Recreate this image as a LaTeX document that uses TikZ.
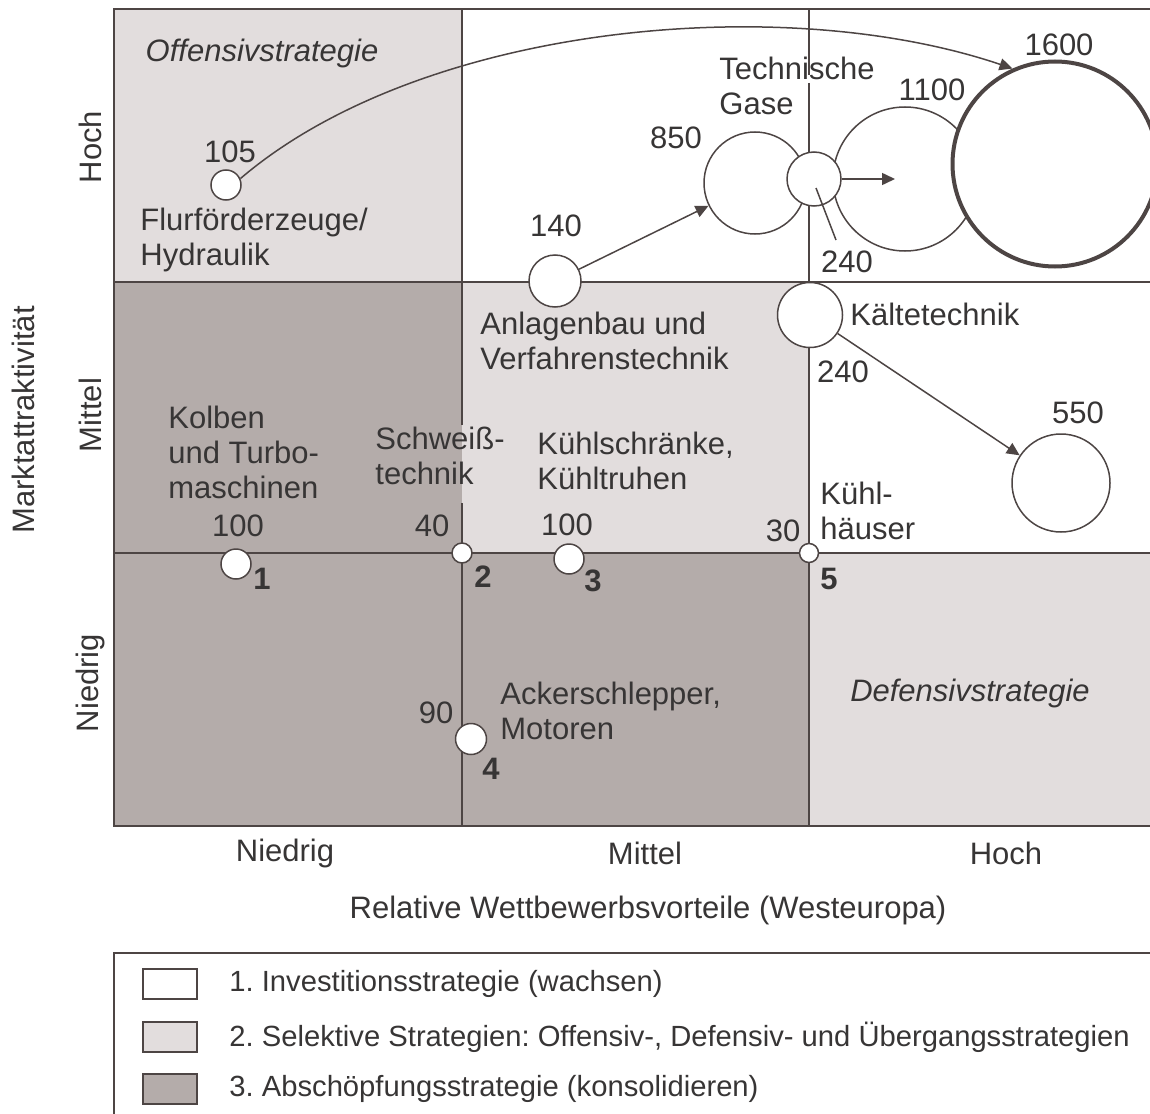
\documentclass[tikz,border=0pt]{standalone}
\usepackage{fontspec}
\setmainfont{Liberation Sans}
\usepackage{tikz}
\usetikzlibrary{positioning,arrows.meta}

\definecolor{linegray}{RGB}{77,69,68}
\definecolor{textgray}{RGB}{55,53,53}
\definecolor{lightq}{RGB}{226,221,221}
\definecolor{darkq}{RGB}{180,172,170}

\frenchspacing
\begin{document}
\begin{tikzpicture}[
    x=0.5pt, y=-0.5pt,
    font=\fontsize{15.5pt}{17.5pt}\selectfont,
    every node/.style={text=textgray},
    bub/.style={circle, draw=linegray, line width=0.75pt, fill=white, inner sep=0pt},
    lbl/.style={inner sep=0pt},
    txt/.style={inner sep=0pt, align=left, anchor=west},
    idx/.style={inner sep=0pt, font=\fontsize{15.5pt}{17.5pt}\selectfont\bfseries},
    arr/.style={draw=linegray, line width=0.75pt, -{Triangle[length=6.5pt,width=6pt]}},
    gridline/.style={draw=linegray, line width=1pt},
    swatch/.style={draw=linegray, line width=1pt, minimum width=27pt, minimum height=15pt, inner sep=0pt},
    legtext/.style={inner sep=0pt, font=\fontsize{14.6pt}{17pt}\selectfont}
]
\useasboundingbox (0,0) rectangle (1150,1113);
\clip (0,0) rectangle (1150,1113);

% Quadrant fills
\fill[lightq] (114,9) rectangle (462,282);
\fill[darkq] (114,282) rectangle (462,826);
\fill[lightq] (462,282) rectangle (809,553);
\fill[darkq] (462,553) rectangle (809,826);
\fill[lightq] (809,553) rectangle (1160,826);

% Grid
\draw[gridline] (1160,9) -- (114,9) -- (114,826) -- (1160,826);
\draw[gridline] (114,282) -- (1160,282);
\draw[gridline] (114,553) -- (1160,553);
\draw[gridline] (462,9) -- (462,425) (462,503) -- (462,826);
\draw[gridline] (809,9) -- (809,75) (809,83) -- (809,826);

% Strategy names
\node (offens) [lbl, font=\fontsize{15.5pt}{17.5pt}\selectfont\itshape] at (262,53) {Offensivstrategie};
\node (defens) [lbl, font=\fontsize{15.5pt}{17.5pt}\selectfont\itshape] at (970,693) {Defensivstrategie};

% Bubbles, high attractiveness
\node (c105) [bub, minimum size=15pt] at (226,185) {};
\node (c140) [bub, minimum size=26pt] at (555,281) {};
\node (c1100) [bub, minimum size=72pt] at (905,179) {};
\node (c1600) [bub, minimum size=102.5pt, line width=2pt] at (1055,164) {};
\node (c850) [bub, minimum size=51pt] at (755,183) {};
\node (c240g) [bub, minimum size=27pt] at (814,179) {};

% Bubbles, medium attractiveness
\node (ck) [bub, minimum size=32.5pt] at (810,315) {};
\node (c550) [bub, minimum size=49pt] at (1061,483) {};

% Bubbles on the lower lines
\node (c1) [bub, minimum size=15pt] at (236,564) {};
\node (c2) [bub, minimum size=10pt] at (462,553) {};
\node (c3) [bub, minimum size=15pt] at (569,559) {};
\node (c4) [bub, minimum size=15.5pt] at (471,739) {};
\node (c5) [bub, minimum size=9.5pt] at (809,553) {};

% Values
\node (v105) [lbl] at (230,152) {105};
\node (v140) [lbl] at (556,226) {140};
\node (v850) [lbl] at (676,138) {850};
\node (v1100) [lbl] at (932,90) {1100};
\node (v1600) [lbl] at (1059,45) {1600};
\node (v240g) [lbl] at (847,262) {240};
\node (v240k) [lbl] at (843,372) {240};
\node (v550) [lbl] at (1078,413) {550};
\node (v100a) [lbl] at (238,526) {100};
\node (v40) [lbl] at (432,526) {40};
\node (v100b) [lbl] at (567,525) {100};
\node (v30) [lbl] at (783,531) {30};
\node (v90) [lbl] at (436,713) {90};

% Numbers
\node (n1) [idx] at (262,579) {1};
\node (n2) [idx] at (483,577) {2};
\node (n3) [idx] at (593,581) {3};
\node (n4) [idx] at (491,769) {4};
\node (n5) [idx] at (829,579) {5};

% Business names
\node (flur) [txt] at (140,240) {Flurförderzeuge/\\Hydraulik};
\node (gase) [txt] at (719,86) {Technische\\Gase};
\node (anlagen) [txt] at (480,341) {Anlagenbau und\\Verfahrenstechnik};
\node (kaelte) [txt] at (850,314) {Kältetechnik};
\node (kolben) [txt] at (168,452) {Kolben\\und Turbo-\\maschinen};
\node (schweiss) [txt] at (375,456) {Schweiß-\\technik};
\node (kuehl) [txt] at (537,461) {Kühlschränke,\\Kühltruhen};
\node (haeuser) [txt] at (820,511) {Kühl-\\häuser};
\node (acker) [txt] at (500,711) {Ackerschlepper,\\Motoren};

% Arrows
\draw[arr] (c105.24) .. controls (420,25) and (780,-10) .. (c1600.114);
\draw[arr] (c140) -- (c850);
\draw[arr] (c240g.east) -- ([xshift=-5pt]c1100.center);
\draw[arr] (ck) -- (c550);
\coordinate (lead) at (836,240);
\draw[draw=linegray, line width=0.75pt] ([shift={(2,9)}]c240g.center) -- (lead);

% Axes
\node (xlow) [lbl] at (285,853) {Niedrig};
\node (xmid) [lbl] at (645,853) {Mittel};
\node (xhigh) [lbl] at (1006,853) {Hoch};
\node (xtitle) [lbl] at (648,910) {Relative Wettbewerbsvorteile (Westeuropa)};
\node (yhigh) [lbl, rotate=90] at (90,147) {Hoch};
\node (ymid) [lbl, rotate=90] at (90,415) {Mittel};
\node (ylow) [lbl, rotate=90] at (90,683) {Niedrig};
\node (ytitle) [lbl, rotate=90] at (23,420) {Marktattraktivität};

% Legend
\draw[gridline] (114,953) rectangle (1160,1130);
\node (sw1) [swatch, fill=white] at (170,984) {};
\node (sw2) [swatch, fill=lightq] at (170,1037) {};
\node (sw3) [swatch, fill=darkq] at (170,1089) {};
\node (leg1) [legtext, right=15.5pt of sw1] {1. Investitionsstrategie (wachsen)};
\node (leg2) [legtext, right=15.5pt of sw2] {2. Selektive Strategien: Offensiv-, Defensiv- und Übergangsstrategien};
\node (leg3) [legtext, right=15.5pt of sw3] {3. Abschöpfungsstrategie (konsolidieren)};

\end{tikzpicture}
\end{document}
